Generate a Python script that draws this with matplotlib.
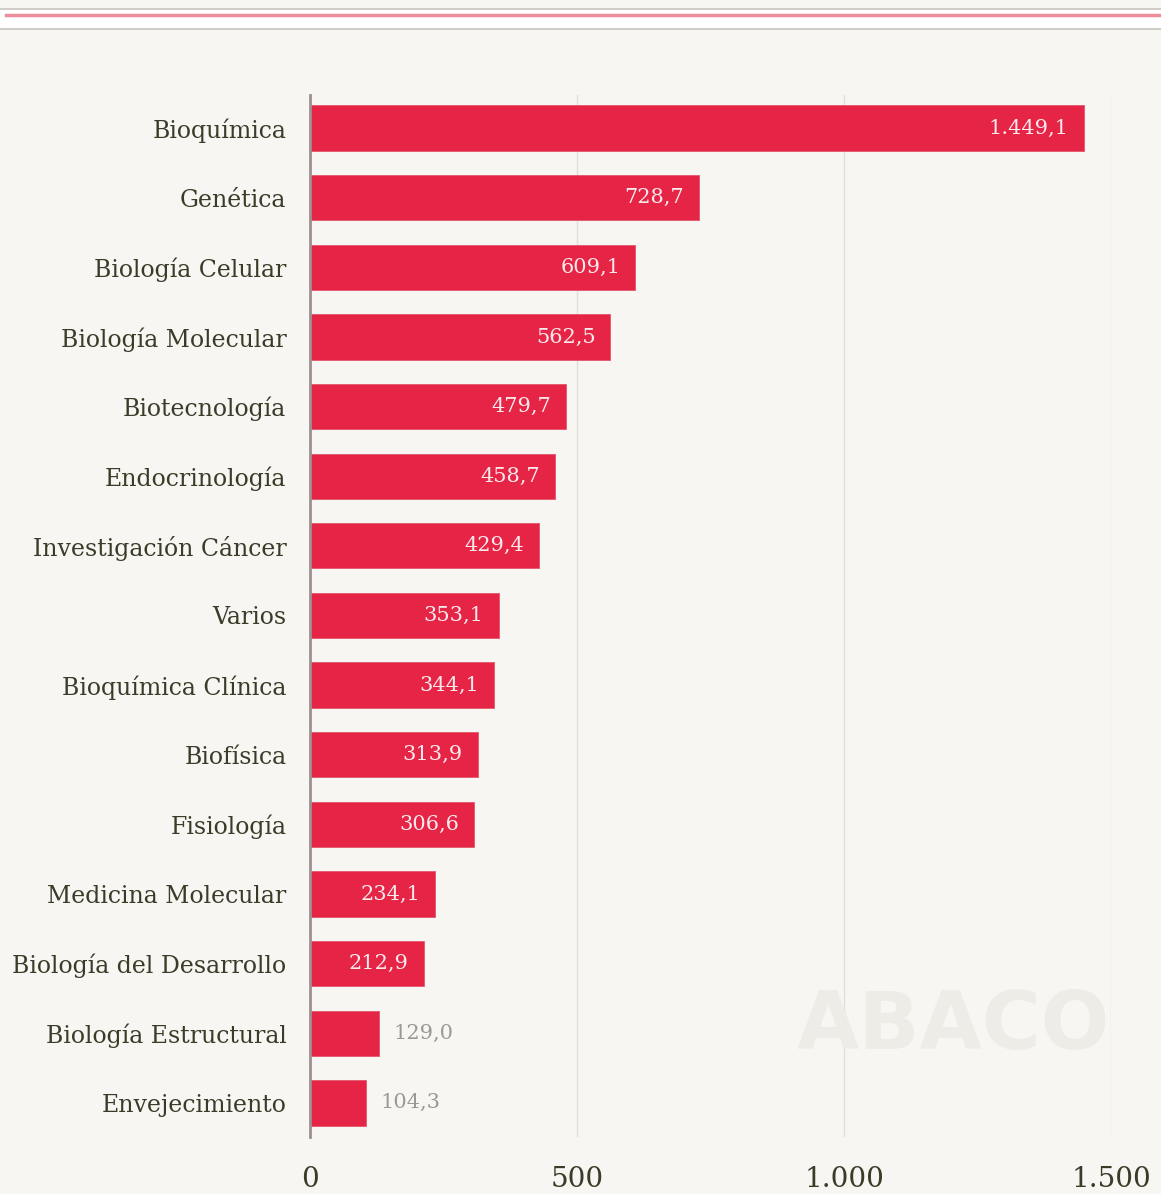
import numpy as np
import matplotlib.pyplot as plt
from matplotlib.patches import Rectangle
from matplotlib.lines import Line2D

categories = ["Bioquímica", "Genética", "Biología Celular", "Biología Molecular",
              "Biotecnología", "Endocrinología", "Investigación Cáncer", "Varios",
              "Bioquímica Clínica", "Biofísica", "Fisiología", "Medicina Molecular",
              "Biología del Desarrollo", "Biología Estructural", "Envejecimiento"]
values = [1449.1, 728.7, 609.1, 562.5, 479.7, 458.7, 429.4, 353.1,
          344.1, 313.9, 306.6, 234.1, 212.9, 129.0, 104.3]
xticks = [0, 500, 1000, 1500]
xticklabels = ["0", "500", "1.000", "1.500"]

W, H = 1161, 1194
bg = '#f7f6f2'
red = '#e52446'
textcol = '#3b3b28'
serif = ['DejaVu Serif']


def fmt(v):
    s = '{:,.1f}'.format(v)
    return s.replace(',', 'X').replace('.', ',').replace('X', '.')


def main():
    fig = plt.figure(figsize=(W / 100, H / 100), dpi=100, facecolor=bg)

    ## Top decoration
    fig.add_artist(Rectangle((0, 1 - 28 / H), 1, 20 / H, transform=fig.transFigure,
                             facecolor='white', edgecolor='none'))
    fig.add_artist(Line2D([0, 1], [1 - 8.5 / H] * 2, transform=fig.transFigure,
                          color='#c8c4bd', lw=1.2))
    fig.add_artist(Line2D([0, 1], [1 - 28.5 / H] * 2, transform=fig.transFigure,
                          color='#c8c4bd', lw=1.2))
    fig.add_artist(Line2D([6 / W, 1], [1 - 14.5 / H] * 2, transform=fig.transFigure,
                          color='#ec8e9c', lw=2.5))

    left, right = 310 / W, 1111 / W
    top, bottom = 1 - 95 / H, 1 - 1137 / H
    ax = fig.add_axes([left, bottom, right - left, top - bottom])
    ax.set_facecolor(bg)

    y = np.arange(len(categories))
    ax.barh(y, values, height=0.65, color=red, edgecolor='#e0566c', linewidth=0.6, zorder=3)

    for yi, v in zip(y, values):
        if v > 200:
            ax.text(v - 28, yi, fmt(v), ha='right', va='center', color='#fbe9ec',
                    fontsize=15, family=serif, zorder=4)
        else:
            ax.text(v + 28, yi, fmt(v), ha='left', va='center', color='#9a9a94',
                    fontsize=15, family=serif, zorder=4)

    ax.set_xlim(0, 1500)
    ax.set_ylim(len(categories) - 1 + 0.49, -0.474)
    ax.set_yticks(y)
    ax.set_yticklabels(categories, family=serif, fontsize=17, color=textcol)
    ax.set_xticks(xticks)
    ax.set_xticklabels(xticklabels, family=serif, fontsize=20, color=textcol)
    ax.tick_params(axis='y', length=0, pad=17)
    ax.tick_params(axis='x', length=0, pad=21)

    for x in xticks[1:]:
        ax.axvline(x, color='#e2dfd9', lw=1, zorder=1)

    for s in ['top', 'right', 'bottom']:
        ax.spines[s].set_visible(False)
    ax.spines['left'].set_color('#9c9090')
    ax.spines['left'].set_linewidth(2)
    ax.spines['left'].set_zorder(5)

    ## Watermark
    fig.text(953 / W, 1 - 1027 / H, 'ABACO', ha='center', va='center', fontsize=58,
             color='#eeece7', family='DejaVu Sans', weight='bold', zorder=0)

    fig.savefig('out.png', dpi=100, facecolor=bg)
    plt.close(fig)


if __name__ == "__main__":
    main()
